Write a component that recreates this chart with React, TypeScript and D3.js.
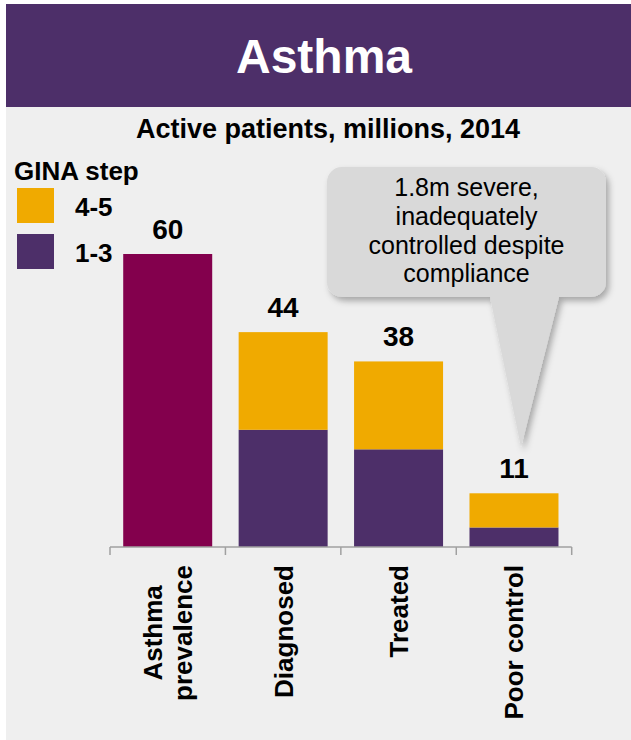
import React, { useRef, useEffect } from 'react';
import * as d3 from 'd3';

// chart data
const categories = ['Asthma prevalence', 'Diagnosed', 'Treated', 'Poor control'];
const categoryLines = [['Asthma', 'prevalence'], ['Diagnosed'], ['Treated'], ['Poor control']];
const totals = [60, 44, 38, 11];
const gina13 = [0, 24, 20, 4];
const gina45 = [0, 20, 18, 7];
const legendItems = ['4-5', '1-3'];
const calloutLines = ['1.8m severe,', 'inadequately', 'controlled despite', 'compliance'];

const FONT = '"Liberation Sans", Arial, Helvetica, sans-serif';
const PURPLE = '#4d2f69';
const MAGENTA = '#83004d';
const ORANGE = '#f0aa00';
const BG = '#efefef';

const W = 631;
const H = 740;

const App: React.FC = () => {
  const svgRef = useRef<SVGSVGElement>(null);

  useEffect(() => {
    if (!svgRef.current) return;
    const svg = d3.select(svgRef.current);
    svg.selectAll('*').remove();

    // drop shadow for callout
    const defs = svg.append('defs');
    const f = defs.append('filter').attr('id', 'shadow')
      .attr('x', '-10%').attr('y', '-10%').attr('width', '130%').attr('height', '130%');
    f.append('feDropShadow')
      .attr('dx', 3).attr('dy', 4).attr('stdDeviation', 3)
      .attr('flood-color', '#000').attr('flood-opacity', 0.3);

    // background + header
    svg.append('rect').attr('x', 6).attr('y', 4).attr('width', W - 6).attr('height', H - 4).attr('fill', BG);
    svg.append('rect').attr('x', 6).attr('y', 4).attr('width', W - 6).attr('height', 103).attr('fill', PURPLE);
    svg.append('text')
      .attr('x', 324).attr('y', 73)
      .attr('text-anchor', 'middle')
      .attr('font-family', FONT).attr('font-weight', 'bold').attr('font-size', 48)
      .attr('fill', '#fff')
      .text('Asthma');

    svg.append('text')
      .attr('x', 328).attr('y', 138)
      .attr('text-anchor', 'middle')
      .attr('font-family', FONT).attr('font-weight', 'bold').attr('font-size', 27)
      .attr('fill', '#000')
      .text('Active patients, millions, 2014');

    // legend
    svg.append('text')
      .attr('x', 14).attr('y', 180)
      .attr('font-family', FONT).attr('font-weight', 'bold').attr('font-size', 26)
      .text('GINA step');
    const legendColors = [ORANGE, PURPLE];
    legendItems.forEach((lab, i) => {
      const y0 = 188 + i * 46;
      svg.append('rect').attr('x', 17).attr('y', y0).attr('width', 37).attr('height', 35).attr('fill', legendColors[i]);
      svg.append('text')
        .attr('x', 75).attr('y', y0 + 28)
        .attr('font-family', FONT).attr('font-weight', 'bold').attr('font-size', 26)
        .text(lab);
    });

    // scales
    const x = d3.scaleBand<string>()
      .domain(categories)
      .range([110, 571.7])
      .paddingInner(0.229)
      .paddingOuter(0.1145);
    const y = d3.scaleLinear().domain([0, 60]).range([547, 254]);

    const g = svg.append('g');

    // bars
    categories.forEach((c, i) => {
      const bx = x(c)!;
      const bw = x.bandwidth();
      if (gina13[i] + gina45[i] === 0) {
        g.append('rect')
          .attr('x', bx).attr('y', y(totals[i]))
          .attr('width', bw).attr('height', y(0) - y(totals[i]))
          .attr('fill', MAGENTA);
      } else {
        const stack = [
          { v0: 0, v1: gina13[i], color: PURPLE },
          { v0: gina13[i], v1: gina13[i] + gina45[i], color: ORANGE },
        ];
        stack.forEach(s => {
          g.append('rect')
            .attr('x', bx).attr('y', y(s.v1))
            .attr('width', bw).attr('height', y(s.v0) - y(s.v1))
            .attr('fill', s.color);
        });
      }
      g.append('text')
        .attr('x', bx + bw / 2).attr('y', y(totals[i]) - 15)
        .attr('text-anchor', 'middle')
        .attr('font-family', FONT).attr('font-weight', 'bold').attr('font-size', 28)
        .text(totals[i]);
    });

    // axis with ticks on band boundaries
    const [r0, r1] = x.range();
    const axis = svg.append('g').attr('stroke', '#a0a0a0').attr('stroke-width', 1.5).attr('fill', 'none');
    axis.append('line').attr('x1', r0).attr('x2', r1).attr('y1', y(0)).attr('y2', y(0));
    d3.range(categories.length + 1).forEach(i => {
      const tx = r0 + i * x.step();
      axis.append('line').attr('x1', tx).attr('x2', tx).attr('y1', y(0)).attr('y2', y(0) + 8);
    });

    // rotated category labels, top-aligned at y=565
    categories.forEach((c, i) => {
      const cx = x(c)! + x.bandwidth() / 2;
      const lines = categoryLines[i];
      const texts = lines.map(l => svg.append('text')
        .attr('font-family', FONT).attr('font-weight', 'bold').attr('font-size', 26)
        .attr('text-anchor', 'middle')
        .text(l));
      const len = d3.max(texts, t => (t.node() as SVGTextElement).getComputedTextLength()) || 0;
      const cy = 565 + len / 2;
      texts.forEach((t, j) => {
        const bx = cx + 9.5 + (j - (lines.length - 1) / 2) * 30;
        t.attr('transform', `translate(${bx},${cy}) rotate(-90)`);
      });
    });

    // callout bubble pointing at the poor control bar
    const left = 327, right = 606, top = 167, bottom = 297, r = 15;
    const tipX = x('Poor control')! + x.bandwidth() / 2 + 7;
    const tipY = y(totals[3]) - 46;
    const path = d3.path();
    path.moveTo(left + r, top);
    path.lineTo(right - r, top);
    path.arcTo(right, top, right, top + r, r);
    path.lineTo(right, bottom - r);
    path.arcTo(right, bottom, right - r, bottom, r);
    path.lineTo(559, bottom);
    path.lineTo(tipX, tipY);
    path.lineTo(490, bottom);
    path.lineTo(left + r, bottom);
    path.arcTo(left, bottom, left, bottom - r, r);
    path.lineTo(left, top + r);
    path.arcTo(left, top, left + r, top, r);
    path.closePath();
    svg.append('path')
      .attr('d', path.toString())
      .attr('fill', '#d9d9d9')
      .attr('filter', 'url(#shadow)');

    calloutLines.forEach((l, i) => {
      svg.append('text')
        .attr('x', (left + right) / 2).attr('y', 196 + i * 28.8)
        .attr('text-anchor', 'middle')
        .attr('font-family', FONT).attr('font-size', 25)
        .attr('fill', '#000')
        .text(l);
    });
  }, []);

  return (
    <svg
      ref={svgRef}
      width={W}
      height={H}
      style={{ position: 'absolute', left: 0, top: 0, background: '#fff' }}
    />
  );
};

export default App;
